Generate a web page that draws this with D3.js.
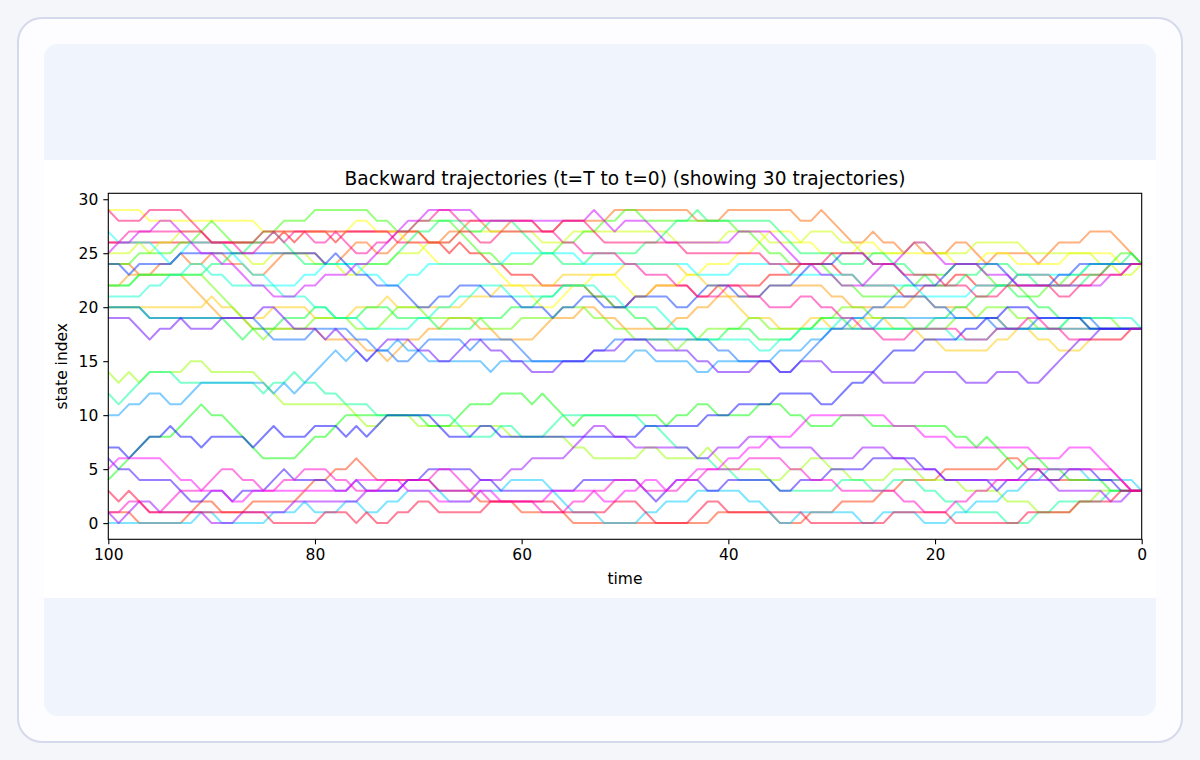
<!DOCTYPE html>
<html lang="en">
<head>
<meta charset="UTF-8">
<title>Backward trajectories</title>
<script src="https://cdn.jsdelivr.net/npm/d3@7"></script>
<style>
  body { margin: 0; background: #f5f6fa; }
  svg { display: block; font-family: "DejaVu Sans", sans-serif; }
</style>
</head>
<body>
<div id="chart"></div>
<script>
// time axis: t=100 on the left down to t=0 on the right, one state per step
const times = d3.range(100, -1, -1);
const xTicks = [100, 80, 60, 40, 20, 0];
const yTicks = [0, 5, 10, 15, 20, 25, 30];

// state index of each trajectory, read left to right (t=100 -> t=0)
const traj01 = [26,26,26,26,26,26,26,26,26,26, 26,26,26,26,26,26,26,27,26,27, 27,27,26,27,27,27,27,27,27,27, 27,26,26,25,26,25,25,24,24,23, 23,23,22,22,22,22,22,21,21,20, 20,21,21,22,22,22,22,21,21,22, 22,22,22,22,23,23,23,24,24,24, 24,23,23,22,22,22,22,21,21,22, 22,22,23,23,22,22,22,22,23,23, 23,23,22,22,23,23,23,24,24,24,24];
const traj02 = [1,1,1,0,0,0,0,0,1,2, 2,1,1,1,2,2,2,2,2,3, 4,4,5,5,6,5,4,4,4,4, 4,4,3,3,3,3,2,2,2,2, 1,1,1,1,1,0,0,0,0,0, 0,0,0,0,0,0,0,0,0,1, 1,1,1,1,1,0,0,0,1,1, 1,2,2,2,2,3,3,4,4,4, 4,5,5,5,5,5,5,6,6,5, 5,4,4,4,4,4,4,4,4,3,3];
const traj03 = [24,24,24,23,23,24,24,25,24,24, 25,25,24,24,23,23,24,25,25,25, 25,24,24,25,26,26,25,25,26,27, 27,26,26,27,27,28,28,27,27,28, 28,28,27,27,28,28,28,28,28,29, 29,29,29,29,29,29,29,28,28,28, 29,29,29,29,29,29,29,28,28,29, 28,27,26,26,27,26,26,25,26,25, 25,25,26,26,25,24,25,25,25,25, 24,25,26,26,26,27,27,27,26,25,24];
const traj04 = [22,22,23,23,23,23,23,23,22,21, 20,19,19,19,18,18,18,18,18,18, 18,17,17,17,17,16,16,15,16,17, 17,18,18,19,19,19,18,18,17,17, 17,17,18,19,19,19,20,20,19,19, 18,18,18,18,18,19,19,20,20,21, 21,21,21,21,22,22,22,22,22,22, 21,21,20,20,20,20,20,20,21,21, 20,20,20,20,19,19,19,18,18,18, 18,18,18,18,18,18,18,18,18,18,18];
const traj05 = [20,20,20,20,20,20,20,20,20,20, 21,20,20,19,19,19,20,20,20,20, 19,19,19,19,20,20,20,21,20,20, 20,20,20,20,20,21,21,21,22,22, 22,22,22,22,23,23,23,23,23,23, 24,24,24,24,24,24,23,23,22,22, 21,20,19,19,19,18,18,18,19,19, 18,18,18,19,19,19,18,18,18,17, 17,16,16,16,16,16,17,17,18,18, 17,17,16,16,16,17,17,17,17,18,18];
const traj06 = [29,29,29,29,28,28,28,28,28,28, 28,28,28,28,28,27,27,27,27,27, 27,27,27,27,28,28,27,27,27,26, 26,25,24,24,24,24,24,24,23,22, 22,21,20,20,21,22,22,23,23,23, 22,21,21,22,22,22,23,23,24,24, 24,25,25,26,27,27,27,26,26,25, 25,25,25,26,26,25,25,25,25,25, 25,25,24,24,24,25,25,25,24,24, 24,24,24,25,25,25,25,25,24,24,24];
const traj07 = [25,25,25,26,25,26,26,27,27,27, 26,26,25,25,24,24,25,25,25,25, 24,24,24,23,23,24,24,24,25,25, 25,26,26,26,27,27,27,27,27,27, 27,27,26,26,26,27,27,27,27,27, 27,27,27,27,27,26,26,26,26,26, 27,27,27,27,26,26,26,26,27,27, 27,26,26,25,25,25,25,25,26,26, 25,25,25,25,26,26,26,26,26,25, 25,25,25,25,25,25,24,24,23,23,24];
const traj08 = [14,13,14,13,14,14,14,14,15,15, 14,14,14,14,14,13,12,11,11,11, 11,11,11,11,10,9,9,10,10,10, 9,9,9,9,9,9,9,9,9,8, 8,8,8,8,8,7,7,6,6,6, 6,6,7,7,6,6,6,6,7,6, 5,5,5,5,4,4,5,5,6,6, 5,5,4,4,4,4,5,5,5,4, 4,4,4,3,3,3,3,2,2,2, 1,1,1,1,2,2,3,3,3,3,3];
const traj09 = [22,22,22,23,23,23,23,23,23,23, 22,21,20,19,18,17,18,18,18,18, 19,19,19,19,18,18,18,19,20,20, 20,19,19,19,19,19,19,18,18,18, 19,19,19,19,20,20,20,19,19,18, 18,17,17,17,17,16,17,17,18,18, 18,18,19,19,18,18,18,18,18,19, 19,20,20,20,19,19,19,19,18,18, 18,18,19,19,19,20,20,20,19,19, 18,18,18,19,19,19,19,19,18,18,18];
const traj10 = [24,24,24,25,25,25,25,26,26,27, 28,27,26,26,26,27,27,28,28,28, 29,29,29,29,29,29,28,28,27,27, 28,28,28,28,27,26,25,25,24,24, 24,24,25,25,26,26,27,27,28,28, 29,29,28,28,28,28,28,28,28,28, 28,27,27,26,25,25,24,24,24,24, 23,22,22,21,21,21,21,22,22,23, 23,23,24,24,24,23,22,22,22,21, 21,22,22,23,23,24,24,24,25,25,24];
const traj11 = [4,5,6,7,8,8,8,9,10,11, 10,10,9,8,7,6,6,6,6,7, 8,8,9,10,10,10,10,10,10,10, 10,9,9,9,10,11,11,11,12,12, 12,11,12,11,10,9,10,10,10,10, 10,10,10,10,9,10,10,11,11,10, 10,10,10,11,11,11,10,10,9,9, 9,10,10,10,9,9,9,9,9,9, 9,9,8,8,7,8,7,6,5,6, 6,5,5,4,4,4,4,3,3,3,3];
const traj12 = [20,20,20,20,19,19,19,19,19,19, 19,19,18,17,18,18,18,19,19,19, 20,20,19,19,19,20,20,20,19,19, 19,19,18,18,18,18,19,19,19,20, 20,20,21,21,22,22,22,21,21,20, 20,19,19,18,18,18,18,17,17,17, 18,18,18,17,17,17,17,18,18,19, 19,19,18,18,18,18,18,18,18,18, 19,19,20,20,21,21,22,22,21,21, 20,20,19,19,19,18,18,18,18,18,18];
const traj13 = [22,22,22,23,23,23,23,23,23,23, 24,24,25,25,26,26,27,26,25,24, 24,24,24,24,24,24,24,24,25,26, 27,27,28,28,28,27,27,28,28,28, 27,26,25,25,24,24,24,25,25,25, 25,25,26,26,27,28,28,29,28,28, 28,28,28,28,28,27,26,25,25,25, 25,24,24,24,25,25,24,24,23,23, 22,22,22,23,23,24,24,24,23,23, 22,22,22,22,22,23,23,24,24,25,24];
const traj14 = [12,11,12,13,14,14,14,13,13,13, 13,13,13,13,13,12,13,13,14,13, 13,12,12,11,11,11,10,10,10,10, 10,10,10,10,9,8,8,8,9,9, 8,8,8,9,10,10,10,10,10,10, 10,10,9,9,8,7,7,6,6,5, 5,4,4,4,4,3,3,3,3,3, 3,4,4,4,3,3,4,4,4,3, 3,2,2,1,1,1,1,0,0,0, 1,1,2,2,2,2,2,3,3,3,3];
const traj15 = [21,21,21,21,22,22,23,23,24,24, 23,23,22,22,22,22,22,21,21,21, 20,20,19,19,19,18,18,18,18,18, 19,19,20,20,21,21,22,22,22,21, 21,21,21,21,22,22,22,22,21,21, 20,20,20,20,19,18,18,17,17,17, 17,17,17,16,16,17,17,18,18,18, 18,19,19,19,18,18,18,18,18,18, 18,18,17,17,17,17,18,18,18,18, 18,18,18,19,19,19,19,19,19,19,18];
const traj16 = [27,26,26,26,26,25,24,25,26,26, 26,26,25,24,23,23,22,22,22,23, 23,24,24,24,24,23,23,22,22,23, 23,24,24,24,24,24,24,24,24,25, 25,25,25,25,25,25,24,24,24,24, 24,24,24,24,24,24,24,23,23,23, 23,24,24,24,24,24,23,23,23,23, 23,23,23,22,22,22,22,22,22,21, 21,21,21,21,22,22,22,22,23,23, 23,23,23,23,23,24,24,24,24,24,24];
const traj17 = [0,0,0,0,0,0,0,0,0,1, 1,0,0,0,0,0,1,1,1,2, 1,1,1,2,2,1,1,2,2,3, 3,3,3,2,2,2,3,3,3,4, 4,4,4,3,2,1,1,1,0,0, 0,0,1,1,2,2,2,3,3,3, 3,3,2,2,1,0,0,1,1,1, 1,1,1,0,0,1,1,1,1,0, 0,0,1,1,2,2,2,3,3,4, 4,5,5,5,5,4,4,4,4,4,3];
const traj18 = [10,10,11,11,12,12,11,11,12,13, 13,13,13,13,13,13,12,13,12,13, 14,15,16,15,16,15,16,16,17,16, 16,15,15,15,15,15,15,14,15,15, 15,15,15,15,15,15,15,15,15,15, 15,16,16,15,15,15,15,14,14,15, 15,15,15,15,15,16,16,16,17,17, 18,18,18,18,18,19,19,19,19,19, 19,19,19,19,19,19,19,18,18,18, 18,18,18,18,18,18,18,18,18,18,18];
const traj19 = [20,20,20,20,19,19,19,19,19,19, 19,19,19,19,19,18,17,17,17,17, 18,18,18,18,17,17,16,16,15,15, 16,17,17,17,17,16,17,17,17,17, 16,15,15,15,15,15,15,16,16,17, 17,17,17,17,17,17,17,17,17,16, 16,15,15,15,15,14,14,15,16,17, 18,18,19,19,20,20,21,21,21,21, 20,20,19,19,19,19,18,18,18,18, 19,19,19,19,19,19,18,18,18,18,18];
const traj20 = [24,24,23,24,24,24,24,25,25,25, 25,25,25,25,25,25,25,25,25,25, 25,24,25,24,23,23,22,22,22,21, 20,20,21,21,22,22,22,21,21,21, 20,20,20,19,20,20,21,21,20,20, 20,21,21,21,21,20,20,21,22,22, 22,21,21,21,22,22,22,23,24,24, 24,25,25,25,24,24,24,23,22,22, 22,23,24,24,24,24,24,23,22,22, 22,22,23,23,24,24,24,24,24,24,24];
const traj21 = [7,7,6,7,8,8,9,8,8,7, 8,8,8,8,7,8,9,8,8,8, 9,9,9,8,9,8,9,10,10,10, 10,10,9,8,8,8,9,9,8,8, 8,8,8,8,8,8,8,8,8,8, 8,8,9,9,9,9,9,9,10,10, 10,11,11,11,11,12,12,12,12,11, 11,12,13,13,14,15,16,16,16,17, 17,17,17,18,18,19,19,20,20,20, 19,19,19,19,19,18,18,18,18,18,18];
const traj22 = [6,5,5,4,4,4,4,3,2,2, 3,3,2,3,3,3,4,5,4,4, 4,4,3,3,4,3,3,3,3,4, 4,5,5,5,5,5,4,4,3,3, 3,3,3,3,3,3,4,4,4,4, 4,4,3,2,3,4,4,4,3,3, 4,4,4,4,4,3,3,4,4,4, 5,5,5,5,6,6,6,6,6,5, 5,4,4,4,4,4,3,4,4,5, 5,4,4,5,5,5,4,4,3,3,3];
const traj23 = [19,19,19,18,17,18,18,19,18,18, 18,19,19,19,19,20,20,19,18,18, 18,17,18,17,16,15,16,17,17,17, 16,16,15,15,16,17,17,16,16,15, 15,14,14,14,15,15,15,16,16,16, 17,17,17,16,16,16,16,15,15,14, 14,14,14,15,15,14,14,15,15,15, 14,14,14,14,14,13,13,13,13,14, 14,14,14,13,13,13,14,14,14,13, 13,14,15,16,17,17,18,18,18,18,18];
const traj24 = [1,0,1,2,2,1,1,1,1,1, 0,0,0,1,1,1,1,1,2,2, 2,2,2,2,2,3,3,3,3,4, 4,4,3,3,3,3,4,4,4,5, 5,6,6,6,6,7,8,9,9,8, 8,7,7,7,7,7,7,6,6,7, 7,7,8,8,8,7,7,7,7,6, 6,6,6,7,7,7,6,6,5,5, 5,4,4,4,4,4,4,4,4,4, 4,4,3,3,3,3,3,2,2,3,3];
const traj25 = [25,26,26,27,27,28,28,27,26,25, 25,24,24,23,22,22,21,21,21,22, 22,23,23,23,24,24,25,26,27,28, 28,29,29,29,29,29,28,28,28,28, 28,28,28,28,28,28,28,29,28,27, 28,28,28,27,26,26,26,26,26,26, 26,27,27,27,27,26,25,24,24,23, 23,22,22,22,23,24,24,25,26,26, 25,24,24,24,24,23,23,23,22,22, 22,22,22,22,22,22,22,23,23,24,24];
const traj26 = [5,6,6,6,6,6,5,4,4,3, 3,3,2,2,3,3,3,3,3,3, 3,3,3,3,4,4,4,4,4,3, 3,3,2,2,2,2,3,3,2,2, 2,2,2,3,3,3,3,3,2,2, 3,3,4,4,3,4,4,5,5,5, 6,6,7,7,8,8,8,9,10,10, 10,10,10,10,10,10,9,9,9,8, 8,8,7,7,7,7,7,7,7,7, 6,6,6,7,7,7,6,5,4,3,3];
const traj27 = [1,1,2,2,1,1,2,3,3,3, 4,5,5,4,4,3,3,4,4,5, 5,5,4,4,3,3,3,4,4,4, 4,4,5,5,4,3,3,2,2,2, 2,2,1,1,1,2,2,3,3,4, 4,4,3,3,3,3,4,4,5,5, 5,5,6,6,6,6,5,5,4,4, 4,3,3,3,3,3,3,2,2,1, 1,1,2,2,3,3,4,4,4,4, 5,5,5,5,5,5,5,5,4,3,3];
const traj28 = [26,26,27,27,27,27,27,27,27,27, 26,26,26,25,25,26,27,26,27,27, 26,26,27,26,25,25,26,26,27,27, 28,28,29,29,28,28,28,28,28,28, 28,28,27,27,26,26,25,25,25,25, 24,24,23,23,23,22,22,21,21,21, 22,22,21,21,20,20,20,21,21,20, 20,19,19,18,18,17,17,17,18,18, 18,18,18,17,17,17,18,18,18,19, 19,18,18,17,17,17,17,17,17,18,18];
const traj29 = [29,28,28,28,29,29,29,29,28,27, 26,26,26,26,26,27,27,27,27,27, 27,27,27,27,27,27,27,27,26,26, 26,26,26,26,27,27,26,26,27,27, 27,27,27,27,28,28,28,27,26,26, 26,26,26,26,26,26,25,25,25,25, 25,25,25,25,24,24,24,24,24,24, 25,25,25,25,24,24,24,23,23,23, 23,22,22,22,21,21,21,22,22,22, 22,22,21,21,22,22,23,23,23,24,24];
const traj30 = [3,2,3,2,1,1,1,1,1,1, 1,1,1,1,1,1,0,0,0,0, 0,1,1,1,0,1,0,0,1,1, 2,2,1,1,1,1,1,2,2,2, 2,2,2,2,1,1,1,1,1,2, 2,2,1,0,0,0,0,1,2,2, 1,1,1,1,1,1,1,1,0,0, 0,0,0,0,0,0,1,1,1,1, 1,1,0,0,0,0,0,0,0,1, 1,1,1,1,2,2,2,2,3,3,3];

const trajectories = [traj01, traj02, traj03, traj04, traj05, traj06, traj07, traj08, traj09, traj10,
                      traj11, traj12, traj13, traj14, traj15, traj16, traj17, traj18, traj19, traj20,
                      traj21, traj22, traj23, traj24, traj25, traj26, traj27, traj28, traj29, traj30];

const W = 1200, H = 760;
const plot = { left: 108.3, right: 1141.7, top: 193.3, bottom: 539.3 };

const svg = d3.select('#chart')
    .append('svg')
    .attr('width', W)
    .attr('height', H);

// page frame
svg.append('rect').attr('x', 18).attr('y', 18).attr('width', 1164).attr('height', 724)
    .attr('rx', 24).attr('fill', '#fdfdff').attr('stroke', '#d4daec').attr('stroke-width', 2);
svg.append('rect').attr('x', 44).attr('y', 44).attr('width', 1112).attr('height', 672)
    .attr('rx', 14).attr('fill', '#f0f4fc');
svg.append('rect').attr('x', 44).attr('y', 160).attr('width', 1112).attr('height', 438)
    .attr('fill', '#ffffff');

const x = d3.scaleLinear().domain([100, 0]).range([plot.left, plot.right]);
const y = d3.scaleLinear().domain([-1.5, 30.55]).range([plot.bottom, plot.top]);

// hsv colormap, one hue per trajectory
const color = i => d3.hsl(i * 360 / trajectories.length, 1, 0.5).formatHex();

const line = d3.line()
    .x((d, i) => x(times[i]))
    .y(d => y(d));

svg.append('g')
    .selectAll('path')
    .data(trajectories)
    .join('path')
    .attr('d', line)
    .attr('fill', 'none')
    .attr('stroke', (d, i) => color(i))
    .attr('stroke-opacity', 0.5)
    .attr('stroke-width', 2)
    .attr('stroke-linejoin', 'round');

// axes
const xAxis = svg.append('g')
    .attr('transform', `translate(0,${plot.bottom})`)
    .call(d3.axisBottom(x).tickValues(xTicks).tickSize(5).tickPadding(5));
const yAxis = svg.append('g')
    .attr('transform', `translate(${plot.left},0)`)
    .call(d3.axisLeft(y).tickValues(yTicks).tickSize(5).tickPadding(5));

[xAxis, yAxis].forEach(a => {
    a.select('.domain').remove();
    a.selectAll('text').attr('font-size', 15.5).attr('fill', '#000').attr('font-family', '"DejaVu Sans", sans-serif');
    a.selectAll('line').attr('stroke', '#000').attr('stroke-width', 1.1);
});

svg.append('rect')
    .attr('x', plot.left).attr('y', plot.top)
    .attr('width', plot.right - plot.left).attr('height', plot.bottom - plot.top)
    .attr('fill', 'none').attr('stroke', '#000').attr('stroke-width', 1.1);

svg.append('text')
    .attr('x', (plot.left + plot.right) / 2).attr('y', 185)
    .attr('text-anchor', 'middle').attr('font-size', 18.6)
    .text('Backward trajectories (t=T to t=0) (showing 30 trajectories)');

svg.append('text')
    .attr('x', (plot.left + plot.right) / 2).attr('y', 584)
    .attr('text-anchor', 'middle').attr('font-size', 15.5)
    .text('time');

svg.append('text')
    .attr('transform', `translate(67,${(plot.top + plot.bottom) / 2}) rotate(-90)`)
    .attr('text-anchor', 'middle').attr('font-size', 15.5)
    .text('state index');
</script>
</body>
</html>
